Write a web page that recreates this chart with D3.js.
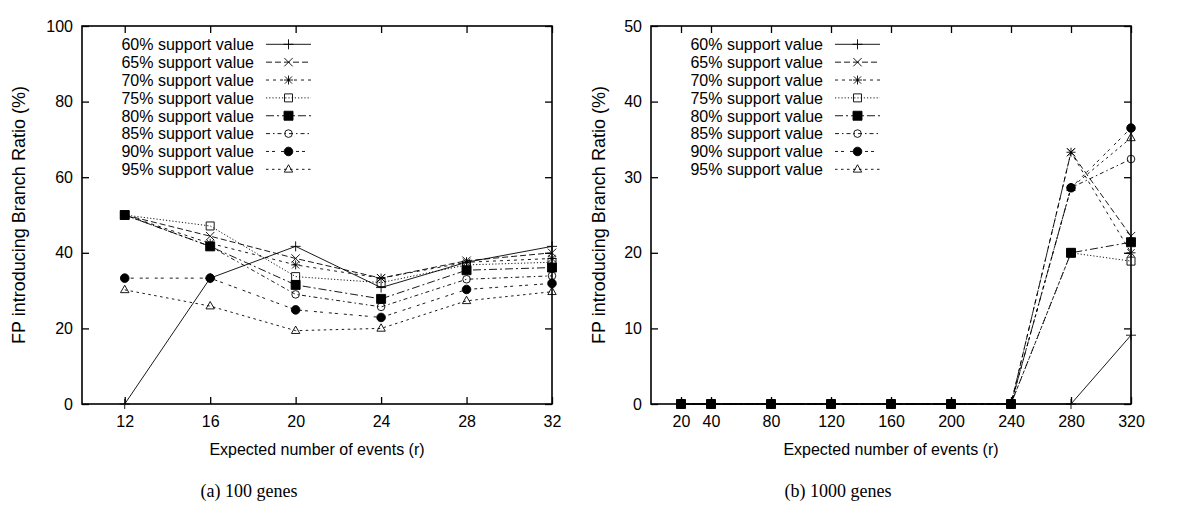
<!DOCTYPE html>
<html><head><meta charset="utf-8">
<script src="https://cdn.jsdelivr.net/npm/d3@7"></script>
<style>
body{margin:0;background:#fff}
svg text{font-family:"Liberation Sans",Arial,Helvetica,sans-serif;fill:#000}
</style>
</head><body>
<svg id="c" width="1200" height="505"></svg>
<script>
// ---------- data ----------
const seriesNames = ["60% support value","65% support value","70% support value","75% support value",
                     "80% support value","85% support value","90% support value","95% support value"];

// (a) 100 genes
const xSmall   = [12, 16, 20, 24, 28, 32];
const small60  = [0,    33.3, 41.7, 30.8, 37.5, 41.7];
const small65  = [50,   44.4, 38.5, 33.3, 37.9, 40.0];
const small70  = [50,   42.5, 36.8, 33.3, 37.5, 38.5];
const small75  = [50,   47.1, 33.7, 32.1, 36.8, 37.5];
const small80  = [50,   41.7, 31.5, 27.8, 35.4, 36.1];
const small85  = [50,   41.7, 29.0, 25.7, 33.0, 33.9];
const small90  = [33.3, 33.3, 24.9, 22.9, 30.3, 31.9];
const small95  = [30.2, 25.9, 19.4, 20.0, 27.3, 29.7];

// (b) 1000 genes
const xLarge   = [20, 40, 80, 120, 160, 200, 240, 280, 320];
const large60  = [0, 0, 0, 0, 0, 0, 0, 0,    9.1];
const large65  = [0, 0, 0, 0, 0, 0, 0, 33.3, 22.2];
const large70  = [0, 0, 0, 0, 0, 0, 0, 33.3, 20.0];
const large75  = [0, 0, 0, 0, 0, 0, 0, 20.0, 18.9];
const large80  = [0, 0, 0, 0, 0, 0, 0, 20.0, 21.4];
const large85  = [0, 0, 0, 0, 0, 0, 0, 28.6, 32.4];
const large90  = [0, 0, 0, 0, 0, 0, 0, 28.6, 36.5];
const large95  = [0, 0, 0, 0, 0, 0, 0, 28.6, 35.2];

const ticksSmallX = [12, 16, 20, 24, 28, 32];
const ticksSmallY = [0, 20, 40, 60, 80, 100];
const ticksLargeX = [20, 40, 80, 120, 160, 200, 240, 280, 320];
const ticksLargeY = [0, 10, 20, 30, 40, 50];

const yTitle = "FP introducing Branch Ratio (%)";
const xTitle = "Expected number of events (r)";
const captionA = "(a) 100 genes";
const captionB = "(b) 1000 genes";

// ---------- styles ----------
const dashes  = [null, "6,3", "3,4", "1.2,2", "8,3,2,3", "4,3,1.5,3", "3,3,3,6", "2.5,3.5"];
const markers = ["plus", "cross", "star", "squareOpen", "squareFilled", "circleOpen", "circleFilled", "triangle"];

const svg = d3.select("#c");

function markerPath(type, x, y) {
  const p = d3.path();
  const s = 4.5;
  if (type === "plus" || type === "star") {
    const a = type === "plus" ? 5 : 4.5;
    p.moveTo(x - a, y); p.lineTo(x + a, y);
    p.moveTo(x, y - a); p.lineTo(x, y + a);
  }
  if (type === "cross" || type === "star") {
    const a = type === "cross" ? 4.2 : 3.6;
    p.moveTo(x - a, y - a); p.lineTo(x + a, y + a);
    p.moveTo(x - a, y + a); p.lineTo(x + a, y - a);
  }
  if (type === "squareOpen") { p.rect(x - 4, y - 4, 8, 8); }
  if (type === "squareFilled") { p.rect(x - 4.5, y - 4.5, 9, 9); }
  if (type === "circleOpen") { p.moveTo(x + 3.8, y); p.arc(x, y, 3.8, 0, 2 * Math.PI); }
  if (type === "circleFilled") { p.moveTo(x + 4.3, y); p.arc(x, y, 4.3, 0, 2 * Math.PI); }
  if (type === "triangle") {
    p.moveTo(x, y - 4.6); p.lineTo(x + 4.2, y + 2.8); p.lineTo(x - 4.2, y + 2.8); p.closePath();
  }
  return p.toString();
}

function drawMarker(g, type, x, y) {
  const filled = type === "squareFilled" || type === "circleFilled";
  g.append("path").attr("d", markerPath(type, x, y))
    .attr("fill", filled ? "#000" : "none")
    .attr("stroke", "#000").attr("stroke-width", 0.9);
}

function panel(cfg) {
  const top = 26, bottom = 404;
  const x = d3.scaleLinear().domain(cfg.xDomain).range([cfg.left, cfg.right]);
  const y = d3.scaleLinear().domain([0, cfg.yMax]).range([bottom, top]);
  const g = svg.append("g");

  const styleAxis = (sel) => {
    sel.select(".domain").remove();
    sel.selectAll(".tick line").attr("stroke", "#000").attr("stroke-width", 1.3);
    sel.selectAll("text").attr("font-size", 16).attr("font-family", '"Liberation Sans",Arial,sans-serif').attr("fill", "#000");
    sel.attr("font-size", null).attr("font-family", null);
  };

  g.append("g").attr("transform", `translate(0,${bottom})`)
    .call(d3.axisBottom(x).tickValues(cfg.xTicks).tickSize(-7).tickPadding(12).tickFormat(d3.format("d")))
    .call(styleAxis);
  g.append("g").attr("transform", `translate(0,${top})`)
    .call(d3.axisTop(x).tickValues(cfg.xTicks).tickSize(-7).tickFormat(""))
    .call(styleAxis);
  g.append("g").attr("transform", `translate(${cfg.left},0)`)
    .call(d3.axisLeft(y).tickValues(cfg.yTicks).tickSize(-7).tickPadding(9).tickFormat(d3.format("d")))
    .call(styleAxis);
  g.append("g").attr("transform", `translate(${cfg.right},0)`)
    .call(d3.axisRight(y).tickValues(cfg.yTicks).tickSize(-7).tickFormat(""))
    .call(styleAxis);

  // border
  g.append("rect").attr("x", cfg.left).attr("y", top)
    .attr("width", cfg.right - cfg.left).attr("height", bottom - top)
    .attr("fill", "none").attr("stroke", "#000").attr("stroke-width", 1.6);

  // series
  const line = d3.line().x((d, i) => x(cfg.xs[i])).y(d => y(d));
  cfg.series.forEach((vals, k) => {
    const sg = g.append("g");
    sg.append("path").attr("d", line(vals)).attr("fill", "none")
      .attr("stroke", "#000").attr("stroke-width", 0.9)
      .attr("stroke-dasharray", dashes[k]);
    vals.forEach((v, i) => drawMarker(sg, markers[k], x(cfg.xs[i]), y(v)));
  });

  // legend
  seriesNames.forEach((name, k) => {
    const ly = 44.3 + k * 17.86;
    g.append("text").attr("x", cfg.legendX).attr("y", ly).attr("dy", "0.36em")
      .attr("text-anchor", "end").attr("font-size", 16).text(name);
    g.append("line").attr("x1", cfg.legendX + 12).attr("x2", cfg.legendX + 57)
      .attr("y1", ly).attr("y2", ly).attr("stroke", "#000").attr("stroke-width", 0.9)
      .attr("stroke-dasharray", dashes[k]);
    drawMarker(g, markers[k], cfg.legendX + 34.5, ly);
  });

  // titles
  g.append("text").attr("transform", `translate(${cfg.yTitleX},${(top + bottom) / 2}) rotate(-90)`)
    .attr("text-anchor", "middle").attr("dy", "0.35em").attr("font-size", 18).text(yTitle);
  g.append("text").attr("x", (cfg.left + cfg.right) / 2).attr("y", 455)
    .attr("text-anchor", "middle").attr("font-size", 16).text(xTitle);
  g.append("text").attr("x", cfg.captionX).attr("y", 497)
    .attr("text-anchor", "middle").attr("font-size", 18)
    .style("font-family", '"Liberation Serif","Times New Roman",serif').text(cfg.caption);
}

panel({
  left: 82, right: 552, xDomain: [10, 32], yMax: 100,
  xTicks: ticksSmallX, yTicks: ticksSmallY, xs: xSmall,
  series: [small60, small65, small70, small75, small80, small85, small90, small95],
  legendX: 254, yTitleX: 19, captionX: 249, caption: captionA
});
panel({
  left: 651, right: 1131, xDomain: [0, 320], yMax: 50,
  xTicks: ticksLargeX, yTicks: ticksLargeY, xs: xLarge,
  series: [large60, large65, large70, large75, large80, large85, large90, large95],
  legendX: 823, yTitleX: 599, captionX: 838, caption: captionB
});
</script>
</body></html>
